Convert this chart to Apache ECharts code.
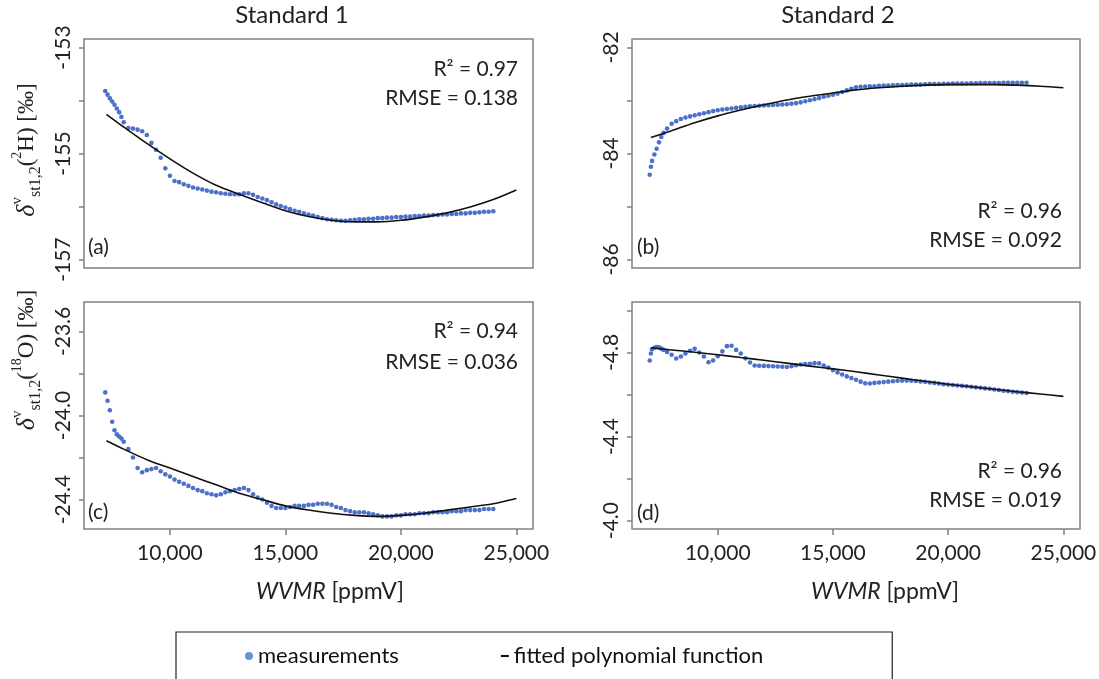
<!DOCTYPE html>
<html>
<head>
<meta charset="utf-8">
<title>WVMR dependence</title>
<script src="https://cdn.jsdelivr.net/npm/echarts@6.0.0/dist/echarts.min.js"></script>
<style>
  html, body { margin: 0; padding: 0; background: #fff; }
  #chart { width: 1099px; height: 679px; }
</style>
</head>
<body>
<div id="chart"></div>
<script>
// water vapour mixing ratio of the measurements [ppmV]
var std1X = [7200, 7300, 7400, 7500, 7600, 7700, 7800, 7900, 8000,
    8200, 8400, 8600, 8800, 9000, 9200, 9400, 9600, 9800, 10000,
    10200, 10400, 10600, 10800, 11000, 11200, 11400, 11600, 11800, 12000,
    12200, 12400, 12600, 12800, 13000, 13200, 13400, 13600, 13800, 14000,
    14200, 14400, 14600, 14800, 15000, 15200, 15400, 15600, 15800, 16000,
    16200, 16400, 16600, 16800, 17000, 17200, 17400, 17600, 17800, 18000,
    18200, 18400, 18600, 18800, 19000, 19200, 19400, 19600, 19800, 20000,
    20200, 20400, 20600, 20800, 21000, 21200, 21400, 21600, 21800, 22000,
    22200, 22400, 22600, 22800, 23000, 23200, 23400, 23600, 23800, 24000];
var std2X = [7050, 7100, 7150, 7250, 7350, 7450, 7550, 7650, 7800, 8000,
    8200, 8400, 8600, 8800, 9000, 9200, 9400, 9600, 9800, 10000,
    10200, 10400, 10600, 10800, 11000, 11200, 11400, 11600, 11800, 12000,
    12200, 12400, 12600, 12800, 13000, 13200, 13400, 13600, 13800, 14000,
    14200, 14400, 14600, 14800, 15000, 15200, 15400, 15600, 15800, 16000,
    16200, 16400, 16600, 16800, 17000, 17200, 17400, 17600, 17800, 18000,
    18200, 18400, 18600, 18800, 19000, 19200, 19400, 19600, 19800, 20000,
    20200, 20400, 20600, 20800, 21000, 21200, 21400, 21600, 21800, 22000,
    22200, 22400, 22600, 22800, 23000, 23200, 23400];

// (a) standard 1, 2H
var measA = [-153.82, -153.89, -153.96, -154.02, -154.08, -154.15, -154.22, -154.31, -154.41,
    -154.52, -154.53, -154.55, -154.58, -154.65, -154.80, -154.93, -155.08, -155.28, -155.42,
    -155.52, -155.54, -155.58, -155.61, -155.64, -155.66, -155.68, -155.70, -155.72, -155.73,
    -155.75, -155.76, -155.77, -155.77, -155.77, -155.75, -155.75, -155.78, -155.82, -155.85,
    -155.88, -155.92, -155.96, -155.99, -156.02, -156.05, -156.08, -156.10, -156.13, -156.15,
    -156.17, -156.20, -156.22, -156.24, -156.25, -156.26, -156.27, -156.27, -156.26, -156.25,
    -156.24, -156.24, -156.23, -156.23, -156.22, -156.22, -156.21, -156.21, -156.20, -156.20,
    -156.19, -156.19, -156.18, -156.18, -156.17, -156.17, -156.16, -156.16, -156.15, -156.15,
    -156.14, -156.14, -156.13, -156.13, -156.12, -156.12, -156.11, -156.10, -156.10, -156.09];
// (c) standard 1, 18O
var measC = [-23.89, -23.93, -23.975, -24.03, -24.07, -24.09, -24.10, -24.11, -24.125,
    -24.16, -24.20, -24.25, -24.27, -24.26, -24.255, -24.25, -24.265, -24.28, -24.29,
    -24.305, -24.315, -24.325, -24.335, -24.345, -24.355, -24.36, -24.37, -24.375, -24.38,
    -24.375, -24.365, -24.36, -24.355, -24.35, -24.345, -24.355, -24.375, -24.39, -24.40,
    -24.415, -24.43, -24.44, -24.44, -24.44, -24.435, -24.43, -24.43, -24.43, -24.425,
    -24.425, -24.42, -24.42, -24.42, -24.425, -24.435, -24.44, -24.45, -24.455, -24.46,
    -24.46, -24.46, -24.465, -24.47, -24.475, -24.48, -24.48, -24.48, -24.475, -24.475,
    -24.47, -24.47, -24.47, -24.465, -24.465, -24.465, -24.46, -24.46, -24.46, -24.46,
    -24.455, -24.455, -24.455, -24.45, -24.45, -24.45, -24.45, -24.445, -24.445, -24.445];
// (b) standard 2, 2H
var measB = [-84.40, -84.25, -84.14, -84.02, -83.91, -83.79, -83.69, -83.61, -83.53, -83.44,
    -83.39, -83.35, -83.32, -83.30, -83.28, -83.26, -83.24, -83.22, -83.20, -83.185,
    -83.17, -83.16, -83.15, -83.14, -83.13, -83.12, -83.11, -83.105, -83.10, -83.095,
    -83.09, -83.085, -83.08, -83.075, -83.07, -83.06, -83.05, -83.035, -83.015, -82.995,
    -82.975, -82.955, -82.93, -82.91, -82.89, -82.87, -82.84, -82.81, -82.78, -82.75,
    -82.74, -82.735, -82.73, -82.73, -82.725, -82.72, -82.72, -82.715, -82.71, -82.71,
    -82.705, -82.70, -82.70, -82.70, -82.695, -82.69, -82.69, -82.69, -82.685, -82.685,
    -82.68, -82.68, -82.68, -82.68, -82.675, -82.675, -82.67, -82.67, -82.67, -82.67,
    -82.67, -82.665, -82.665, -82.665, -82.665, -82.665, -82.665];
// (d) standard 2, 18O
var measD = [-4.762, -4.795, -4.815, -4.822, -4.826, -4.824, -4.818, -4.812, -4.802, -4.789,
    -4.771, -4.781, -4.795, -4.808, -4.817, -4.800, -4.781, -4.753, -4.762, -4.782,
    -4.805, -4.830, -4.832, -4.812, -4.795, -4.772, -4.752, -4.738, -4.737, -4.736,
    -4.735, -4.734, -4.733, -4.732, -4.731, -4.734, -4.739, -4.743, -4.745, -4.746,
    -4.749, -4.748, -4.738, -4.728, -4.716, -4.705, -4.695, -4.686, -4.678, -4.670,
    -4.661, -4.653, -4.652, -4.655, -4.657, -4.659, -4.661, -4.663, -4.665, -4.666,
    -4.666, -4.665, -4.664, -4.662, -4.660, -4.657, -4.655, -4.652, -4.649, -4.647,
    -4.645, -4.643, -4.641, -4.639, -4.637, -4.634, -4.632, -4.629, -4.627, -4.624,
    -4.621, -4.618, -4.616, -4.613, -4.611, -4.609, -4.607];

// fitted polynomial functions
var fitX1 = [7250, 8000, 9000, 10000, 11000, 12000, 13000, 14000, 15000, 16000,
    17000, 18000, 19000, 20000, 21000, 22000, 23000, 24000, 25000];
var fitX2 = [7100, 8000, 9000, 10000, 11000, 12000, 13000, 14000, 15000, 16000,
    17000, 18000, 19000, 20000, 21000, 22000, 23000, 24000, 25000];
var fitA = [-154.26, -154.50, -154.81, -155.10, -155.37, -155.60, -155.77, -155.93, -156.08, -156.19,
    -156.26, -156.29, -156.29, -156.26, -156.20, -156.12, -156.01, -155.87, -155.69];
var fitC = [-24.12, -24.16, -24.21, -24.25, -24.29, -24.33, -24.37, -24.40, -24.43, -24.45,
    -24.465, -24.475, -24.48, -24.475, -24.465, -24.45, -24.435, -24.42, -24.395];
var fitB = [-83.70, -83.57, -83.42, -83.29, -83.18, -83.08, -82.99, -82.92, -82.86, -82.80,
    -82.76, -82.73, -82.71, -82.70, -82.70, -82.70, -82.71, -82.73, -82.76];
var fitD = [-4.822, -4.812, -4.801, -4.789, -4.776, -4.763, -4.749, -4.735, -4.722, -4.708,
    -4.693, -4.678, -4.663, -4.649, -4.637, -4.625, -4.613, -4.602, -4.591];

// ticks and labels
var xTicks = [10000, 15000, 20000, 25000];
var yTicksA = [-157, -156, -155, -154, -153], yLabelsA = [-157, -155, -153];
var yTicksB = [-86, -85, -84, -83, -82], yLabelsB = [-86, -84, -82];
var yTicksC = [-24.4, -24.2, -24.0, -23.8, -23.6], yLabelsC = [-24.4, -24.0, -23.6];
var yTicksD = [-5.0, -4.8, -4.6, -4.4, -4.2, -4.0], yLabelsD = [-4.8, -4.4, -4.0];

var panelTags = ['(a)', '(b)', '(c)', '(d)'];
var statR2 = ['0.97', '0.96', '0.94', '0.96'];
var statRMSE = ['0.138', '0.092', '0.036', '0.019'];
var columnTitles = ['Standard 1', 'Standard 2'];

var FONT = 'Lato, "Noto Sans", sans-serif';
var SERIF = '"Liberation Serif", "DejaVu Serif", serif';
var BLUE = '#4169c6';
var GRAY = '#808080';

var myChart = echarts.init(document.getElementById('chart'), null, { renderer: 'canvas' });

function pairs(xs, ys) {
    return xs.map(function (x, i) { return [x, ys[i]]; });
}

function xAxisOf(gridIndex, bottom) {
    return {
        type: 'value',
        gridIndex: gridIndex,
        min: 6280,
        max: 25720,
        splitLine: { show: false },
        axisLine: { show: false },
        axisTick: {
            show: bottom, length: 6, customValues: xTicks,
            lineStyle: { color: GRAY, width: 1.5 }
        },
        axisLabel: {
            show: bottom, customValues: xTicks, margin: 14,
            color: '#222', fontFamily: FONT, fontSize: 21,
            formatter: function (v) { return v.toLocaleString('en-US'); }
        }
    };
}

function yAxisOf(gridIndex, min, max, ticks, labels, digits, inverse) {
    return {
        type: 'value',
        gridIndex: gridIndex,
        min: min,
        max: max,
        inverse: !!inverse,
        splitLine: { show: false },
        axisLine: { show: false },
        axisTick: {
            show: true, length: 5, customValues: ticks,
            lineStyle: { color: GRAY, width: 1.5 }
        },
        axisLabel: {
            customValues: labels, rotate: 90, margin: 10,
            color: '#222', fontFamily: FONT, fontSize: 21,
            formatter: function (v) { return v.toFixed(digits); }
        }
    };
}

function gridOf(left, top, width, height) {
    return {
        left: left, top: top, width: width, height: height,
        outerBoundsMode: 'none',
        show: true, borderColor: GRAY, borderWidth: 1.5,
        backgroundColor: 'transparent'
    };
}

function measSeries(i, data) {
    return {
        name: 'measurements', type: 'scatter', xAxisIndex: i, yAxisIndex: i,
        symbolSize: 4.6, itemStyle: { color: BLUE, opacity: 0.95 },
        data: data, z: 2, silent: true
    };
}

function fitSeries(i, data) {
    return {
        name: 'fitted polynomial function', type: 'line', xAxisIndex: i, yAxisIndex: i,
        smooth: 0.3, showSymbol: false, symbol: 'none',
        itemStyle: { color: '#111' },
        lineStyle: { color: '#111', width: 1.6 },
        data: data, z: 3, silent: true
    };
}

function label(x, y, text, align, size) {
    return {
        type: 'text', x: x, y: y, silent: true,
        style: {
            text: text, fill: '#222', fontFamily: FONT, fontSize: size || 21,
            align: align, verticalAlign: 'middle'
        }
    };
}

function xName(x) {
    return {
        type: 'text', x: x, y: 592, silent: true,
        style: {
            text: '{i|WVMR}{n| [ppmV]}', align: 'center', verticalAlign: 'middle',
            rich: {
                i: { fontFamily: FONT, fontStyle: 'italic', fontSize: 23, fill: '#222' },
                n: { fontFamily: FONT, fontSize: 23, fill: '#222' }
            }
        }
    };
}

function yTitle(y, iso) {
    return {
        type: 'text', x: 27, y: y, rotation: Math.PI / 2, silent: true,
        style: {
            text: '{d|δ}{sup|v}{sub|st1,2}{t|(}{iso|' + iso[0] + '}{t|' + iso[1] + ') [‰]}',
            align: 'center', verticalAlign: 'middle', fill: '#222',
            rich: {
                d: { fontFamily: SERIF, fontStyle: 'italic', fontSize: 26, lineHeight: 34, fill: '#222' },
                sup: { fontFamily: SERIF, fontSize: 15, lineHeight: 15, verticalAlign: 'top', fill: '#222' },
                sub: { fontFamily: SERIF, fontSize: 16, lineHeight: 16, verticalAlign: 'bottom', fill: '#222' },
                t: { fontFamily: SERIF, fontSize: 23, lineHeight: 34, fill: '#222' },
                iso: { fontFamily: SERIF, fontSize: 14, lineHeight: 20, verticalAlign: 'top', fill: '#222' }
            }
        }
    };
}

var option = {
    animation: false,
    backgroundColor: '#fff',
    grid: [
        gridOf(84, 39, 449, 229),
        gridOf(632, 39, 448, 229),
        gridOf(84, 302, 449, 227),
        gridOf(632, 302, 448, 227)
    ],
    xAxis: [xAxisOf(0, false), xAxisOf(1, false), xAxisOf(2, true), xAxisOf(3, true)],
    yAxis: [
        yAxisOf(0, -157.16, -152.84, yTicksA, yLabelsA, 0),
        yAxisOf(1, -86.16, -81.84, yTicksB, yLabelsB, 0),
        yAxisOf(2, -24.54, -23.46, yTicksC, yLabelsC, 1),
        yAxisOf(3, -5.04, -3.96, yTicksD, yLabelsD, 1, true)
    ],
    legend: {
        left: 176, top: 632,
        padding: [13, 129, 40, 69],
        itemGap: 102, itemWidth: 8, itemHeight: 8,
        borderColor: '#222', borderWidth: 1.2, borderRadius: 0,
        selectedMode: false,
        textStyle: { fontFamily: FONT, fontSize: 22, color: '#111' },
        data: [
            { name: 'measurements', icon: 'circle', itemStyle: { color: '#5b8ed8' } },
            { name: 'fitted polynomial function', icon: 'path://M0,0L6,0L6,1.6L0,1.6Z', itemStyle: { color: '#111' } }
        ]
    },
    graphic: [
        label(292, 15, columnTitles[0], 'center', 24),
        label(838, 15, columnTitles[1], 'center', 24),
        label(518, 69, 'R² = ' + statR2[0], 'right'),
        label(518, 98, 'RMSE = ' + statRMSE[0], 'right'),
        label(1062, 211, 'R² = ' + statR2[1], 'right'),
        label(1062, 240, 'RMSE = ' + statRMSE[1], 'right'),
        label(518, 331, 'R² = ' + statR2[2], 'right'),
        label(518, 362, 'RMSE = ' + statRMSE[2], 'right'),
        label(1062, 471, 'R² = ' + statR2[3], 'right'),
        label(1062, 500, 'RMSE = ' + statRMSE[3], 'right'),
        label(88, 247, panelTags[0], 'left'),
        label(637, 247, panelTags[1], 'left'),
        label(88, 512, panelTags[2], 'left'),
        label(637, 513, panelTags[3], 'left'),
        xName(330),
        xName(885),
        yTitle(150, ['2', 'H']),
        yTitle(360, ['18', 'O'])
    ],
    series: [
        measSeries(0, pairs(std1X, measA)),
        fitSeries(0, pairs(fitX1, fitA)),
        measSeries(1, pairs(std2X, measB)),
        fitSeries(1, pairs(fitX2, fitB)),
        measSeries(2, pairs(std1X, measC)),
        fitSeries(2, pairs(fitX1, fitC)),
        measSeries(3, pairs(std2X, measD)),
        fitSeries(3, pairs(fitX2, fitD))
    ]
};

myChart.setOption(option);
</script>
</body>
</html>
